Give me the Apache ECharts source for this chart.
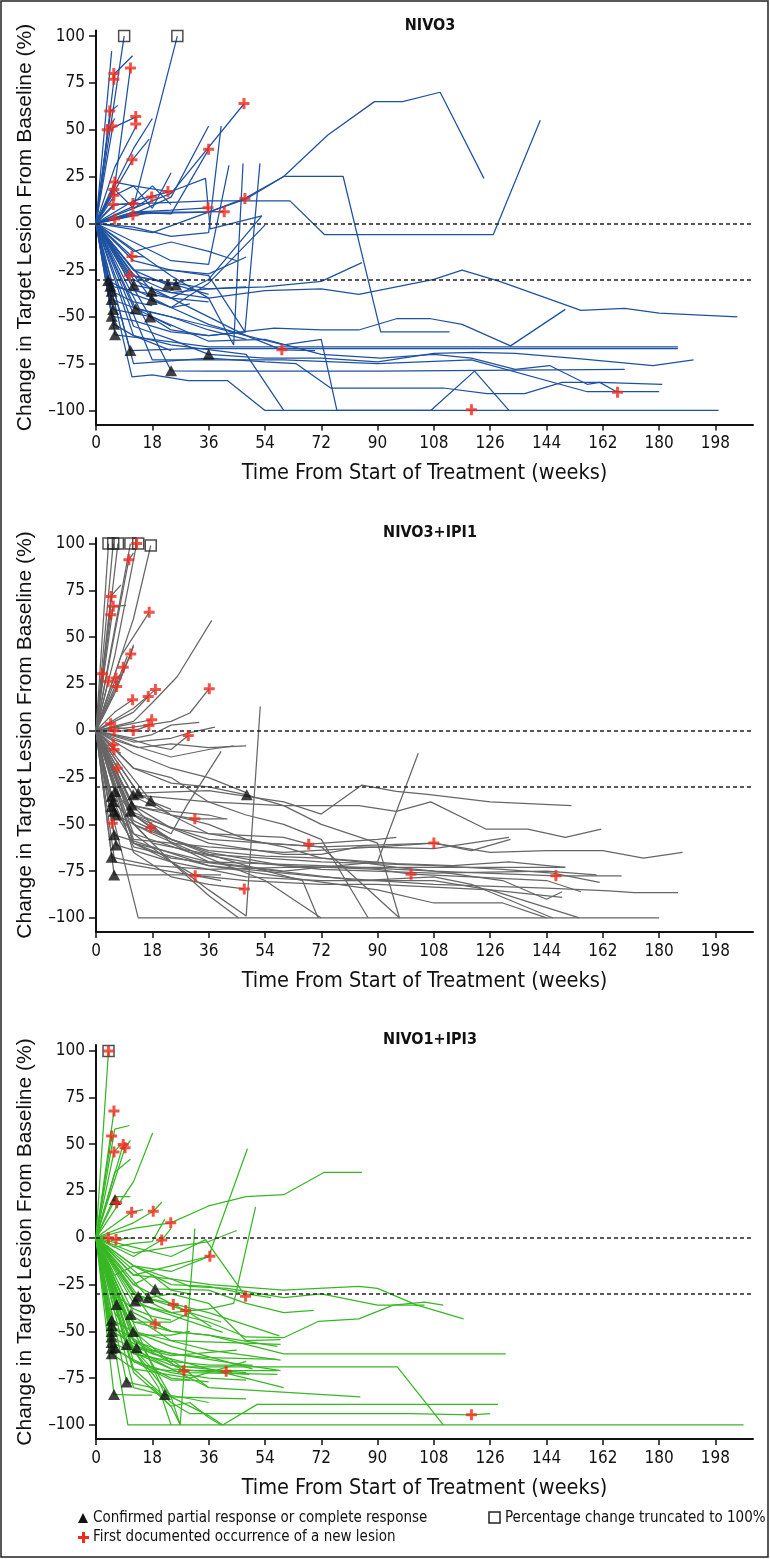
<!DOCTYPE html>
<html>
<head>
<meta charset="utf-8">
<script src="https://cdn.jsdelivr.net/npm/echarts@6/dist/echarts.min.js"></script>
<style>
  html, body { margin: 0; padding: 0; background: #fff; }
  #chart { width: 770px; height: 1559px; }
</style>
</head>
<body>
<div id="chart"></div>
<script>
// axis ticks
const weekTicks = [0, 18, 36, 54, 72, 90, 108, 126, 144, 162, 180, 198];
const pctTicks = [-100, -75, -50, -25, 0, 25, 50, 75, 100];

// NIVO3: one path per patient, [week, % change]
const nivo3Paths = [
  [[0,0],[9,100]],
  [[0,0],[12,9],[26,100]],
  [[0,0],[5,92]],
  [[0,0],[6,80],[11.7,89.5]],
  [[0,0],[6,20],[11,83]],
  [[0,0],[4.7,60],[7,63]],
  [[0,0],[3.9,50],[6,56]],
  [[0,0],[5.3,51],[13,57]],
  [[0,0],[6,30],[13,52.4]],
  [[0,0],[12,40],[18,56]],
  [[0,0],[11.7,34],[17,45]],
  [[0,0],[6,22],[12,20],[18,8],[24,27]],
  [[0,0],[6,18],[12,8],[17.8,14]],
  [[0,0],[6,15],[12,20],[23,17]],
  [[0,0],[5.5,10],[11.8,10.6],[18,20],[24,10]],
  [[0,0],[6,2],[11.8,4.4]],
  [[0,0],[12,12],[24,17],[35,24],[36.5,-3],[53,4]],
  [[0,0],[12,-2],[24,-7],[36,-5],[40,52]],
  [[0,0],[12,5],[24,14],[36,52]],
  [[0,0],[12,6],[24,5],[36,39.5]],
  [[0,0],[12,8],[24,16],[47.4,64]],
  [[0,0],[12,6],[24,7],[35.8,8.3]],
  [[0,0],[18,6],[30,6],[41,6.2]],
  [[0,0],[12,5],[36,6],[47.6,13.3],[60,25],[74,47],[89,65],[98,65],[110,70],[124,24]],
  [[0,0],[18,-5],[36,6],[48,13],[60,25],[79,25],[91,-58],[113,-58]],
  [[0,0],[6,10],[36,12],[62,12],[73,-6],[127,-6],[142,55]],
  [[0,0],[11.5,-17.7],[15.4,-18]],
  [[0,0],[10.7,-27.8],[18,-30],[36,-35],[54,-34],[72,-31],[85,-21]],
  [[0,0],[12,-28],[24,-37],[36,-40],[54,-36],[72,-35],[84,-38],[108,-30],[117,-25],[129,-31],[155,-46.5],[169,-45.5],[180,-48],[205,-50]],
  [[0,0],[12,-30],[24,-40],[36,-30],[53,4]],
  [[0,0],[12,-35],[24,-45],[36,-32],[54,-1]],
  [[0,0],[12,-20],[24,-25],[36,-28],[47.6,-58],[52.4,32]],
  [[0,0],[12,-10],[24,-20],[36,-22],[42.5,31]],
  [[0,0],[12,-14],[24,-28],[36,-40],[44,-65],[47,32]],
  [[0,0],[5,-49.6],[12,-52],[24,-58],[36,-60],[57,-56],[72,-57],[84,-57],[96,-51],[107,-51],[117,-54],[132.5,-65.5],[150,-46]],
  [[0,0],[11,-68],[30,-67],[186,-67]],
  [[0,0],[6.1,-59.6],[18,-62],[36,-66],[186,-66]],
  [[0,0],[12,-55],[24,-62],[36,-70],[54,-72],[72,-72],[90,-74],[108,-69.5],[121,-69],[134,-69.5],[155,-72.4],[178,-76],[191,-73]],
  [[0,0],[5.5,-46],[18,-50],[36,-63],[54,-62],[72,-70],[91,-72],[108,-70],[120,-72],[134,-78],[145,-76],[157,-86],[161,-85],[166.7,-90.3]],
  [[0,0],[24,-78.8],[36,-79],[90,-79],[169,-78]],
  [[0,0],[12,-75],[36,-72],[54,-74],[64,-75],[75,-88],[111,-88],[125,-91],[137,-91],[149,-85],[161,-85],[181,-86]],
  [[0,0],[18,-73],[60,-73],[90,-75],[120,-73],[157,-90],[180,-90]],
  [[0,0],[11.5,-82],[18,-81],[29.5,-84],[42,-84],[54,-100],[199,-100]],
  [[0,0],[12,-60],[24,-65],[48,-70],[60,-100]],
  [[0,0],[12,-45],[36,-55],[60,-65],[72,-62],[77,-100],[107,-100],[121,-79],[132,-100]],
  [[0,0],[4.6,-33.6],[24,-40],[48,-60],[59.4,-67.6],[70,-68]],
  [[0,0],[3.9,-30.6],[12,-38],[24,-45],[36,-54],[48,-60]],
  [[0,0],[12.1,-33],[24,-37],[36,-35],[48,-34]],
  [[0,0],[12.7,-45.7],[24,-50],[36,-57],[48,-62]],
  [[0,0],[17.8,-36.3],[24,-40],[36,-42]],
  [[0,0],[17.8,-40.7],[24,-45],[30,-43]],
  [[0,0],[17.3,-50],[24,-57],[36,-60],[48,-58]],
  [[0,0],[12,-25],[23,-33],[30,-30]],
  [[0,0],[12,-28],[25.6,-33],[36,-38]],
  [[0,0],[5.8,-54],[12,-60],[24,-68]],
  [[0,0],[5,-40.7],[12,-45],[24,-55]],
  [[0,0],[5,-36.3],[12,-42],[18,-44]],
  [[0,0],[12,-25],[24,-25],[36,-27],[48,-18]],
  [[0,0],[12,-15],[24,-10],[36,-15],[45,-20]]
];
const nivo3Responses = [[3.9,-30.6],[4.6,-33.6],[5,-36.3],[5,-40.7],[5.5,-46],[5,-49.6],[5.8,-54],[6.1,-59.6],
  [12.1,-33],[12.7,-45.7],[17.8,-36.3],[17.8,-40.7],[17.3,-50],[11,-68],[23,-33],[25.6,-33],[36,-70],[24,-78.8]];
const nivo3NewLesions = [[5.7,80],[5.7,77],[11,83],[4.4,60],[3.6,50],[5.2,52],[12.7,57],[12.7,53],[11.5,34],[36,39.5],
  [47.3,64],[6,22],[5.7,18],[5.7,15],[5.5,10],[11.8,10.6],[11.8,4.4],[6,2.3],[17.8,14],[23,17],[35.8,8.3],[41,6.2],
  [47.6,13.3],[11.5,-17.7],[10.7,-27.8],[59.4,-67.6],[120,-99.6],[166.7,-90.3]];
const nivo3Truncated = [[9,100],[26,100]];

// NIVO3+IPI1
const nivo3ipi1Paths = [
  [[0,0],[4,100]],
  [[0,0],[5.5,100]],
  [[0,0],[7,100]],
  [[0,0],[11,100]],
  [[0,0],[6,40],[13,100]],
  [[0,0],[6,30],[12,60],[17.5,99]],
  [[0,0],[10.5,91.4],[12,95]],
  [[0,0],[4.8,72],[8,78]],
  [[0,0],[5.5,66.5],[9.6,67]],
  [[0,0],[4.7,62]],
  [[0,0],[8,40],[17,63.3]],
  [[0,0],[6,20],[11.1,41],[12,46]],
  [[0,0],[8.7,34],[10,40]],
  [[0,0],[2.1,30.5]],
  [[0,0],[3.9,26.4]],
  [[0,0],[6.4,28.2],[8,30]],
  [[0,0],[6.6,23.7],[12,45]],
  [[0,0],[6,10],[11.7,16.6]],
  [[0,0],[6,5],[12,10],[16.7,18.3]],
  [[0,0],[12,12],[19,22]],
  [[0,0],[12,2],[24,5],[30,9.5],[36.2,22.5]],
  [[0,0],[12,5],[18,15],[26,29],[37,59]],
  [[0,0],[4.7,3.7],[6,5]],
  [[0,0],[12,4],[17.8,5.9]],
  [[0,0],[12,0],[16.9,2.8]],
  [[0,0],[5.8,0]],
  [[0,0],[6,2],[11.9,0.2]],
  [[0,0],[12,-4],[18,-2],[24,3],[33,4.5]],
  [[0,0],[12,-6],[24,-4],[30,-1],[38,2]],
  [[0,0],[12,-5],[18,-8],[24,-10],[29.5,-2.5]],
  [[0,0],[5.5,-7.5]],
  [[0,0],[5.8,-10],[8,-12]],
  [[0,0],[6.8,-20]],
  [[0,0],[6,-5],[13.5,-9],[24,-7],[36,-9],[48,-8]],
  [[0,0],[12,-20],[24,-25],[36,-38],[48,-45],[60,-50],[72,-58],[87,-100]],
  [[0,0],[12,-45],[24,-55],[29,-40],[40,-11]],
  [[0,0],[12,-55],[24,-70],[36,-85],[48,-99],[52.5,13]],
  [[0,0],[12,-20],[24,-28],[36,-30],[48.2,-34.2],[60,-40],[72,-50],[90,-60],[97,-100]],
  [[0,0],[13.5,-33.3],[36,-32],[60,-38],[72,-44.5],[85,-29],[96,-32.4],[106,-34],[126,-38],[152,-40]],
  [[0,0],[11.9,-34.2],[36,-38],[60,-40],[84,-40],[96,-43],[107,-38],[124.6,-52.5],[138,-52.5],[150,-57],[161.5,-52.5]],
  [[0,0],[6.1,-32.4],[12,-45],[36,-58],[72,-62],[108,-60],[126,-65],[144,-64],[162,-64],[175,-68],[187.5,-65]],
  [[0,0],[5,-35],[12,-62],[36,-72],[72,-78],[108,-82],[144,-84],[164,-85.5],[172,-86.5],[186,-86.4]],
  [[0,0],[11.4,-39.6],[24,-60],[36,-70],[72,-72],[108,-75],[147,-77.5],[168,-77.5]],
  [[0,0],[5.5,-37.8],[18,-60],[36,-66],[72,-70],[108,-72],[130,-74],[146,-76],[161,-81]],
  [[0,0],[5.8,-77],[40,-77]],
  [[0,0],[6,-50],[13.5,-100],[180,-100]],
  [[0,0],[6.4,-45],[18,-55],[36,-68],[54,-80],[72,-100]],
  [[0,0],[5.8,-55.6],[18,-62],[36,-72],[60,-78],[90,-85],[108,-92],[130,-92],[144,-100]],
  [[0,0],[6.4,-61],[24,-70],[48,-78],[72,-80],[108,-80],[126,-85],[154.5,-100]],
  [[0,0],[5,-67.5],[18,-72],[36,-74],[60,-73],[90,-73],[120,-73],[150,-73]],
  [[0,0],[11.1,-43],[24,-52],[36,-55],[60,-57],[68,-60.6],[90,-58],[96,-57]],
  [[0,0],[12,-58],[36,-62],[60,-65],[90,-62],[108,-60],[120,-64],[132.5,-58]],
  [[0,0],[12,-50],[24,-58],[36,-65],[60,-72],[90,-74],[100.7,-76.6],[120,-78],[144,-80],[155,-86]],
  [[0,0],[6,-70],[30,-77],[48,-80],[72,-82],[90,-82],[126,-85],[149,-89]],
  [[0,0],[5.2,-49.4]],
  [[0,0],[12,-40],[24,-45],[31.6,-47],[42,-47]],
  [[0,0],[12,-45],[17.5,-51.7],[24,-58]],
  [[0,0],[12,-60],[24,-70],[31.7,-77.4],[40,-80]],
  [[0,0],[12,-65],[24,-78],[36,-82],[47.4,-84.5]],
  [[0,0],[12,-50],[24,-70],[36,-88],[45.6,-100]],
  [[0,0],[12,-35],[24,-45],[36,-50],[48,-58],[60,-62],[72,-68],[84,-70],[96,-73],[108,-75],[130,-80],[144,-90],[149,-86]],
  [[0,0],[12,-48],[24,-58],[36,-64],[54,-67],[72,-68],[96,-71],[114,-72],[132,-70],[150,-73]],
  [[0,0],[12,-40],[18,-42],[36,-45],[41,-47]],
  [[0,0],[13.5,-33.3],[18,-38],[24,-42]],
  [[0,0],[17.5,-37.4],[24,-45],[36,-55],[54,-60],[72,-62],[97,-100]],
  [[0,0],[12,-45],[24,-58],[36,-66],[48,-72],[66,-80],[71,-100]],
  [[0,0],[12,-12],[24,-20],[36,-25],[48,-33]],
  [[0,0],[12,-8],[24,-14],[36,-10],[44,-8]],
  [[0,0],[12,-60],[36,-70],[60,-75],[90,-70],[103,-12]],
  [[0,0],[12,-40],[24,-52],[36,-60],[60,-66],[72,-66],[84,-62],[108,-63],[132,-57]],
  [[0,0],[5,-40.5],[12,-55],[30,-65],[48,-70],[72,-74],[108,-76],[144,-75],[160,-77]],
  [[0,0],[5.8,-43],[12,-60],[24,-68],[48,-73],[84,-80],[108,-78],[120,-82],[146,-100]]
];
const nivo3ipi1Responses = [[6.1,-32.4],[5,-35],[5.5,-37.8],[5,-40.5],[5.8,-43],[6.4,-45],[11.9,-34.2],[13.5,-33.3],
  [11.4,-39.6],[11.1,-43],[17.5,-37.4],[48.2,-34.2],[5.8,-55.6],[6.4,-61],[5,-67.5],[5.8,-77]];
const nivo3ipi1NewLesions = [[13,100],[10.5,91.4],[4.8,71.8],[5.5,66.5],[4.7,62],[17,63.3],[11.1,41],[8.7,34],[2.1,30.5],
  [3.9,26.4],[6.4,28.2],[6.6,23.7],[11.7,16.6],[16.7,18.3],[19,22],[36.2,22.5],[4.7,3.7],[17.8,5.9],[16.9,2.8],[5.8,0],
  [11.9,0.2],[29.5,-2.5],[5.5,-7.5],[5.8,-10],[6.8,-20],[5.2,-49.4],[17.5,-51.7],[31.6,-47],[68,-60.6],[31.7,-77.4],
  [47.4,-84.5],[108,-60],[100.7,-76.6],[147,-77.5]];
const nivo3ipi1Truncated = [[4,100],[5.5,100],[7,100],[11,100],[13.5,100],[17.5,99]];

// NIVO1+IPI3
const nivo1ipi3Paths = [
  [[0,0],[4,99.8]],
  [[0,0],[5.75,67.7]],
  [[0,0],[5,54.4]],
  [[0,0],[8.7,49.9]],
  [[0,0],[9.3,48.1],[11,52]],
  [[0,0],[5.75,45.8],[8,50]],
  [[0,0],[6,58],[10.7,60]],
  [[0,0],[12,30],[18.1,56]],
  [[0,0],[6,35],[11,42]],
  [[0,0],[6.1,20.5],[6.6,18.7]],
  [[0,0],[6,22],[11,22]],
  [[0,0],[11.4,13.7],[15,15]],
  [[0,0],[12,8],[18.3,14.2],[21,19]],
  [[0,0],[12,5],[23.9,8],[36,17],[48,22],[60,23],[73,35],[85,35]],
  [[0,0],[3.95,0]],
  [[0,0],[6.4,-0.9],[12,0]],
  [[0,0],[12,-10],[21,-1.2],[24,5]],
  [[0,0],[12,-15],[24,-18],[36.4,-9.8]],
  [[0,0],[12,-20],[24,-15],[36,-10],[48.4,47.6]],
  [[0,0],[12,-35],[24,-40],[36,-38],[44,-35],[51,16.5]],
  [[0,0],[12,-8],[24,-5],[36,-2],[45,3.9]],
  [[0,0],[12,-5],[24,-10],[35,-1],[47.8,-31.2]],
  [[0,0],[12,-25],[24.7,-35.7],[30,-40]],
  [[0,0],[12,-30],[28.7,-38.9],[36.9,-47.7]],
  [[0,0],[18.9,-46],[24,-50]],
  [[0,0],[12,-55],[28.1,-71],[48,-71],[58,-71]],
  [[0,0],[12,-60],[24,-68],[41.6,-71.3],[48,-72]],
  [[0,0],[10.2,-100],[207,-100]],
  [[0,0],[12,-60],[24,-85],[36,-95],[40.5,-100],[51.5,-89],[128.5,-89]],
  [[0,0],[12,-70],[24,-88],[30,-94],[60,-94],[100,-94],[120,-94.6],[126,-94]],
  [[0,0],[12,-50],[25.6,-69],[60,-69],[96.3,-69],[111,-100]],
  [[0,0],[12,-40],[24,-50],[36,-52],[48,-57],[60,-62],[131,-62]],
  [[0,0],[12,-20],[24,-22],[36.6,-25],[60,-28],[84,-26],[90,-27],[102.6,-36],[117.5,-43.3]],
  [[0,0],[12,-30],[24,-40],[36,-45],[48,-53],[60,-53.4],[71,-44.7],[84,-43.3],[95,-36],[105,-34.4],[111,-36]],
  [[0,0],[13.5,-31.2],[24,-35],[36,-40],[58.6,-52.4]],
  [[0,0],[16.7,-32.1],[24,-30],[36,-35],[48,-55],[59,-54.4]],
  [[0,0],[12.5,-33.8],[18,-38],[40.5,-50.5]],
  [[0,0],[18.9,-27.3],[36,-28],[48,-35],[60,-40],[69.6,-38.8]],
  [[0,0],[6.6,-35.6],[12,-45],[24,-50],[36,-52],[58,-58]],
  [[0,0],[11.1,-41],[24,-55],[36,-60],[59,-65.4]],
  [[0,0],[5,-44],[12,-50],[24,-55],[59,-57]],
  [[0,0],[5,-47],[18,-60],[36,-65],[59,-71]],
  [[0,0],[5,-50],[18,-62],[36,-70],[60,-80]],
  [[0,0],[5,-53],[24,-70],[49,-73]],
  [[0,0],[5,-56],[24,-70],[36,-80],[84.5,-85]],
  [[0,0],[5,-59],[12,-65],[24,-75],[36,-77]],
  [[0,0],[5,-62],[12,-70],[30,-75],[48,-66]],
  [[0,0],[11.9,-50],[24,-58],[50,-70]],
  [[0,0],[9.8,-57],[24,-63],[45,-60]],
  [[0,0],[13,-58.8],[24,-65],[36,-80]],
  [[0,0],[6.1,-58.8],[12,-66],[24,-76],[30,-76]],
  [[0,0],[9.8,-77.1],[18,-80],[24,-90],[27,-100]],
  [[0,0],[5.75,-83.7],[12,-84],[18,-84]],
  [[0,0],[22,-83.7],[30,-86],[36,-88]],
  [[0,0],[12,-60],[20,-80],[24,-100]],
  [[0,0],[12,-50],[24,-85],[26.9,-100],[31.6,5]],
  [[0,0],[12,-72],[24,-90],[30,-88],[36,-96],[40,-100]],
  [[0,0],[12,-80],[24,-85],[48,-86]],
  [[0,0],[12,-45],[24,-45],[30,-40],[40,-45]],
  [[0,0],[12,-62],[24,-66],[36,-68],[50,-68]],
  [[0,0],[12,-52],[24,-52],[30,-50]],
  [[0,0],[12,-66],[24,-72],[36,-75],[48,-76]],
  [[0,0],[12,-25],[18,-20],[24,-28],[30,-30]],
  [[0,0],[12,-15],[24,-22],[30,-26],[42,-27],[60,-32],[72,-30],[90,-36],[105,-36]],
  [[0,0],[6,-5],[12,-3],[18,-2],[22,10]],
  [[0,0],[6,-20],[12,-15],[24,-25],[36,-26],[48,-30],[56,-32]],
  [[0,0],[6,-30],[12,-38],[18,-42],[24,-44]],
  [[0,0],[6,-40],[12,-55],[24,-62],[36,-64],[58,-65]],
  [[0,0],[6,-48],[18,-70],[30,-72],[58,-73]]
];
const nivo1ipi3Responses = [[6.1,20.5],[18.9,-27.3],[13.5,-31.2],[16.7,-32.1],[12.5,-33.8],[6.6,-35.6],[11.1,-41],
  [5,-44],[5,-47],[5,-50],[5,-53],[5,-56],[5,-59],[5,-62],[11.9,-50],[9.8,-57],[13,-58.8],[6.1,-58.8],
  [9.8,-77.1],[5.75,-83.7],[22,-83.7]];
const nivo1ipi3NewLesions = [[4,99.8],[5.75,67.7],[5,54.4],[8.7,49.9],[9.3,48.1],[5.75,45.8],[6.6,18.7],[11.4,13.7],
  [18.3,14.2],[23.9,8],[3.95,0],[6.4,-0.9],[21,-1.2],[36.4,-9.8],[47.8,-31.2],[24.7,-35.7],[28.7,-38.9],[18.9,-46],
  [28.1,-71],[41.6,-71.3],[120,-94.6]];
const nivo1ipi3Truncated = [[4,99.8]];

const condFont = "'Liberation Sans Narrow', 'DejaVu Sans Condensed', Roboto, sans-serif";
const plainFont = "'Liberation Sans', Arial, sans-serif";
const plusPath = 'path://M4,0h3v4h4v3h-4v4h-3v-4h-4v-3h4z';
const red = '#ee2a1c';

const panels = [
  { title: 'NIVO3', top: 30.5, color: '#1f51a1', paths: nivo3Paths,
    responses: nivo3Responses, lesions: nivo3NewLesions, truncated: nivo3Truncated },
  { title: 'NIVO3+IPI1', top: 538, color: '#666666', paths: nivo3ipi1Paths,
    responses: nivo3ipi1Responses, lesions: nivo3ipi1NewLesions, truncated: nivo3ipi1Truncated },
  { title: 'NIVO1+IPI3', top: 1045, color: '#38b725', paths: nivo1ipi3Paths,
    responses: nivo1ipi3Responses, lesions: nivo1ipi3NewLesions, truncated: nivo1ipi3Truncated }
];

const chart = echarts.init(document.getElementById('chart'));

const grids = [], xAxes = [], yAxes = [], titles = [], series = [];

panels.forEach((p, i) => {
  grids.push({ left: 96, width: 657, top: p.top, height: 394 });
  titles.push({
    text: p.title, left: 425, top: p.top - 18, textAlign: 'center',
    textStyle: { fontFamily: condFont, fontSize: 16, fontWeight: 'bold', color: '#111' }
  });
  xAxes.push({
    type: 'value', gridIndex: i, min: 0, max: 210,
    name: 'Time From Start of Treatment (weeks)', nameLocation: 'middle', nameGap: 38,
    nameTextStyle: { fontFamily: condFont, fontSize: 21.5, color: '#111' },
    axisLine: { show: true, onZero: false, lineStyle: { color: '#111', width: 2 } },
    axisTick: { show: true, length: 6, customValues: weekTicks, lineStyle: { color: '#111', width: 1.5 } },
    axisLabel: { customValues: weekTicks, margin: 11, fontFamily: condFont, fontSize: 17, color: '#111' },
    splitLine: { show: false }
  });
  yAxes.push({
    type: 'value', gridIndex: i, min: -107.5, max: 103,
    name: 'Change in Target Lesion From Baseline (%)', nameLocation: 'middle', nameGap: 60,
    nameTextStyle: { fontFamily: plainFont, fontSize: 21, color: '#111' },
    axisLine: { show: true, onZero: false, lineStyle: { color: '#111', width: 2 } },
    axisTick: { show: true, length: 7, customValues: pctTicks, lineStyle: { color: '#111', width: 1.5 } },
    axisLabel: {
      customValues: pctTicks, margin: 11, fontFamily: condFont, fontSize: 17, color: '#111',
      formatter: v => String(v).replace('-', '\u2013')
    },
    splitLine: { show: false }
  });

  p.paths.forEach(path => {
    series.push({
      type: 'line', xAxisIndex: i, yAxisIndex: i, data: path, symbol: 'none',
      silent: true, animation: false, z: 2,
      lineStyle: { color: p.color, width: 1.25 }
    });
  });

  // reference lines at 0 and -30
  series.push({
    type: 'line', xAxisIndex: i, yAxisIndex: i, data: [], z: 3, animation: false,
    markLine: {
      silent: true, symbol: ['none', 'none'], label: { show: false }, animation: false,
      lineStyle: { color: '#222', type: [4, 3], width: 1.5 },
      data: [{ yAxis: 0 }, { yAxis: -30 }]
    }
  });
  series.push({
    type: 'scatter', xAxisIndex: i, yAxisIndex: i, data: p.truncated, symbol: 'rect', symbolSize: 11,
    clip: false, animation: false, z: 4,
    itemStyle: { color: 'rgba(255,255,255,0)', borderColor: '#222', borderWidth: 1.5 }
  });
  series.push({
    type: 'scatter', xAxisIndex: i, yAxisIndex: i, data: p.responses, symbol: 'triangle', symbolSize: [12, 11],
    animation: false, z: 5, itemStyle: { color: '#111' }
  });
  series.push({
    type: 'scatter', xAxisIndex: i, yAxisIndex: i, data: p.lesions, symbol: plusPath, symbolSize: 11,
    clip: false, animation: false, z: 6, itemStyle: { color: red }
  });
});

const legendText = { fontFamily: condFont, fontSize: 15, fill: '#111', verticalAlign: 'middle' };

chart.setOption({
  backgroundColor: '#fff',
  animation: false,
  title: titles,
  grid: grids,
  xAxis: xAxes,
  yAxis: yAxes,
  series: series,
  graphic: [
    { type: 'rect', shape: { x: 1, y: 1, width: 767, height: 1556 }, style: { fill: 'none', stroke: '#222', lineWidth: 1.5 }, z: 10 },
    { type: 'polygon', shape: { points: [[78, 1523], [88, 1523], [83, 1513]] }, style: { fill: '#111' } },
    { type: 'text', x: 93, y: 1518, style: Object.assign({ text: 'Confirmed partial response or complete response' }, legendText) },
    { type: 'rect', shape: { x: 78, y: 1536, width: 11, height: 3 }, style: { fill: red } },
    { type: 'rect', shape: { x: 82, y: 1532, width: 3, height: 11 }, style: { fill: red } },
    { type: 'text', x: 93, y: 1537, style: Object.assign({ text: 'First documented occurrence of a new lesion' }, legendText) },
    { type: 'rect', shape: { x: 489, y: 1512, width: 11, height: 11 }, style: { fill: '#fff', stroke: '#222', lineWidth: 1.5 } },
    { type: 'text', x: 505, y: 1518, style: Object.assign({ text: 'Percentage change truncated to 100%' }, legendText) }
  ]
});
</script>
</body>
</html>
